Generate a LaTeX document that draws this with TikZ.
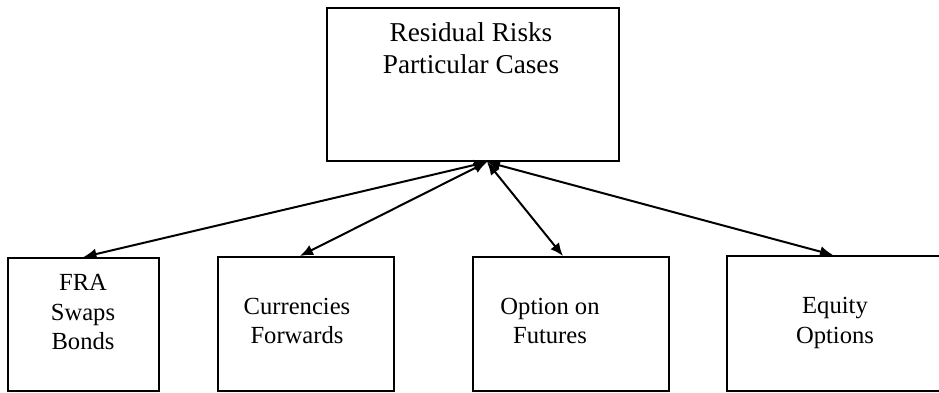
\documentclass[tikz,border=0pt]{standalone}
\usepackage{fontspec}
\setmainfont{Liberation Serif}
\usetikzlibrary{positioning, arrows.meta}
\tikzset{flecha/.style={line width=0.4mm, {Latex[length=2.6mm,width=2.2mm]}-{Latex[length=2.6mm,width=2.2mm]}}}
\tikzset{caja/.style={draw, line width=0.4mm, rectangle, inner sep=0pt}}

\begin{document}
\begin{tikzpicture}[
            x = 0.02cm, y = -0.02cm,
            every node/.style={font=\fontsize{14}{17}\selectfont, align=center}
        ]
            \useasboundingbox (0,0) rectangle (939,392);

            \node[caja, minimum width=5.84cm, minimum height=3.06cm] (riesgo) at (473,84.5) {};
            \node[caja, minimum width=3.02cm, minimum height=2.66cm] (fra) at (83.5,324.5) {};
            \node[caja, minimum width=3.52cm, minimum height=2.68cm] (divisas) at (306,324) {};
            \node[caja, minimum width=3.92cm, minimum height=2.68cm] (futuros) at (571,324) {};
            \node[caja, minimum width=4.46cm, minimum height=2.70cm] (acciones) at (838.5,323.5) {};

            \node[font=\fontsize{15.5}{18}\selectfont] (triesgo) at (471,48) {Residual Risks\\Particular Cases};
            \node (tfra) at (83,312) {FRA\\Swaps\\Bonds};
            \node (tdivisas) at (297,321) {Currencies\\Forwards};
            \node (tfuturos) at (550,321) {Option on\\Futures};
            \node (tacciones) at (835,323) {Equity\\Options};

            \coordinate (centro) at ([xshift=0.28cm]riesgo.south);

            \draw[flecha] (centro) to [] (fra.north);
            \draw[flecha] (centro) to [] ([xshift=-0.12cm]divisas.north);
            \draw[flecha] (centro) to [] ([xshift=-0.16cm]futuros.north);
            \draw[flecha] (centro) to [] ([xshift=-0.11cm]acciones.north);
        \end{tikzpicture}
\end{document}
